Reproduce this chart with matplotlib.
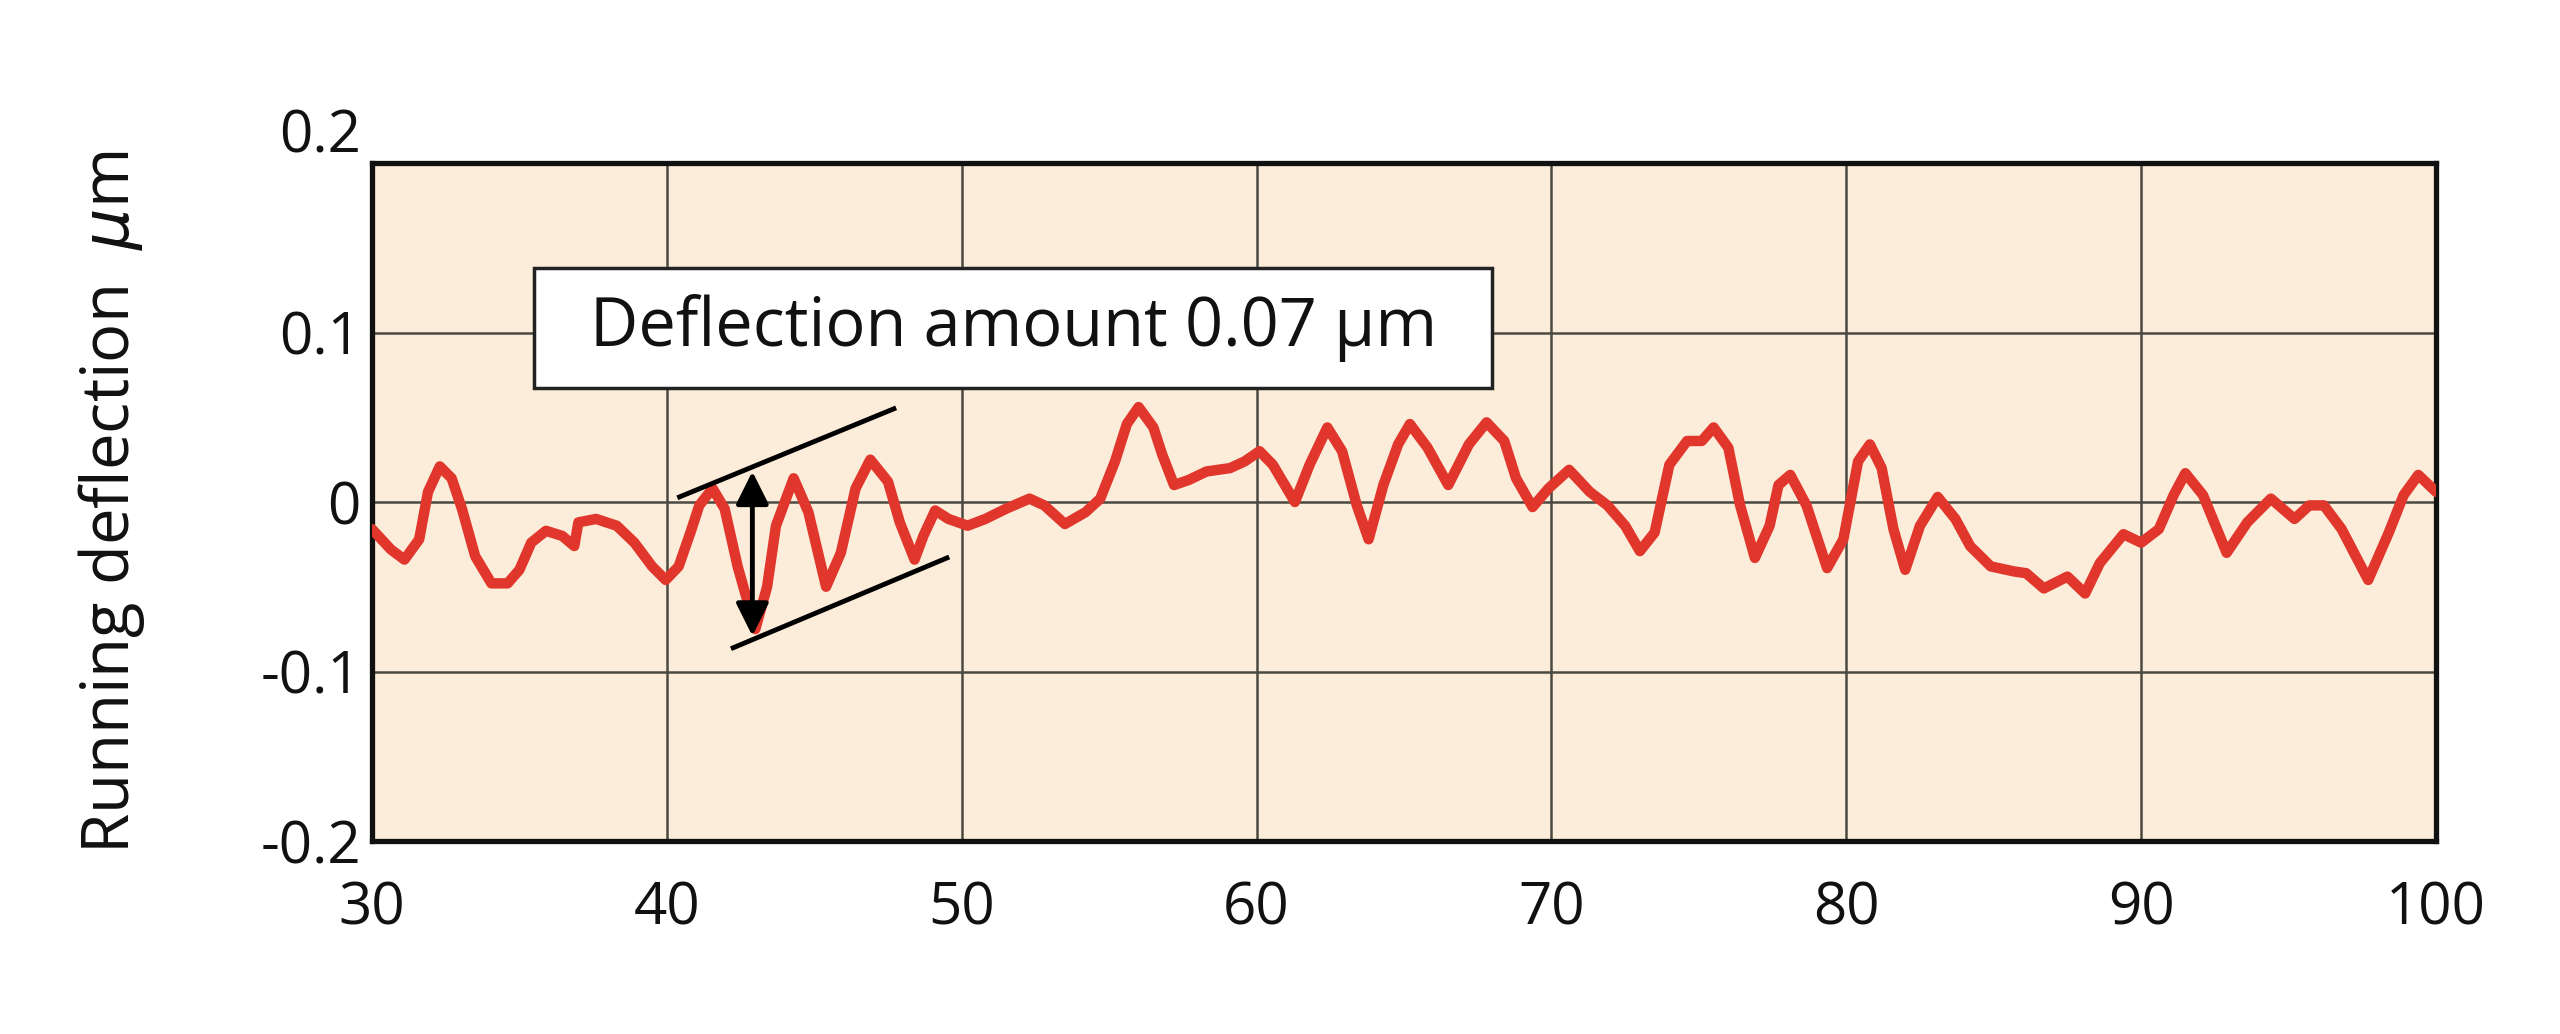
import matplotlib
matplotlib.use("Agg")
import matplotlib.pyplot as plt
from matplotlib.patches import Rectangle
from matplotlib.transforms import ScaledTranslation

# ---- data ----
pos_mm = [30.0, 30.64, 31.1, 31.6, 31.9, 32.3, 32.7, 33.05, 33.5, 34.05, 34.6, 35.0,
          35.4, 35.9, 36.45, 36.86, 37.0, 37.6, 38.3, 38.9, 39.5, 39.96, 40.4, 40.8,
          41.1, 41.55, 41.96, 42.4, 43.0, 43.4, 43.7, 44.3, 44.8, 45.4, 45.9, 46.4,
          46.9, 47.5, 47.9, 48.4, 48.7, 49.1, 49.55, 50.2, 50.8, 51.5, 52.3, 52.8,
          53.5, 54.2, 54.7, 55.2, 55.6, 56.0, 56.5, 56.8, 57.2, 57.7, 58.3, 59.1,
          59.6, 60.1, 60.55, 61.3, 61.8, 62.4, 62.9, 63.4, 63.8, 64.3, 64.8, 65.2,
          65.8, 66.5, 67.2, 67.8, 68.4, 68.8, 69.36, 69.9, 70.6, 71.3, 71.9, 72.5,
          73.0, 73.5, 74.0, 74.6, 75.1, 75.5, 76.0, 76.4, 76.9, 77.4, 77.7, 78.1,
          78.65, 79.35, 79.9, 80.4, 80.8, 81.2, 81.6, 82.0, 82.5, 83.1, 83.7, 84.2,
          84.9, 85.7, 86.1, 86.7, 87.5, 88.1, 88.6, 89.4, 90.0, 90.6, 91.1, 91.5,
          92.1, 92.9, 93.6, 94.4, 95.2, 95.7, 96.2, 96.8, 97.7, 98.4, 98.9, 99.4,
          100.0]
deflection_um = [-0.016, -0.028, -0.034, -0.022, 0.006, 0.021, 0.014, -0.004, -0.032, -0.048, -0.048, -0.040,
                 -0.024, -0.017, -0.020, -0.026, -0.012, -0.010, -0.014, -0.024, -0.038, -0.046, -0.038, -0.018,
                 -0.002, 0.008, -0.004, -0.038, -0.075, -0.050, -0.014, 0.014, -0.006, -0.050, -0.030, 0.008,
                 0.025, 0.012, -0.012, -0.034, -0.020, -0.005, -0.010, -0.014, -0.010, -0.004, 0.002, -0.002,
                 -0.013, -0.006, 0.002, 0.024, 0.046, 0.056, 0.044, 0.028, 0.010, 0.013, 0.018, 0.020,
                 0.024, 0.030, 0.022, 0.000, 0.022, 0.044, 0.030, -0.002, -0.022, 0.010, 0.034, 0.046,
                 0.032, 0.010, 0.034, 0.047, 0.036, 0.014, -0.003, 0.008, 0.019, 0.006, -0.002, -0.014,
                 -0.029, -0.018, 0.022, 0.036, 0.036, 0.044, 0.032, -0.002, -0.033, -0.014, 0.010, 0.016,
                 -0.002, -0.039, -0.022, 0.024, 0.034, 0.020, -0.016, -0.040, -0.014, 0.003, -0.010, -0.026,
                 -0.038, -0.041, -0.042, -0.051, -0.044, -0.054, -0.036, -0.019, -0.024, -0.016, 0.004, 0.017,
                 0.004, -0.030, -0.012, 0.002, -0.010, -0.002, -0.002, -0.016, -0.046, -0.018, 0.004, 0.016,
                 0.006]

x_ticks = [30, 40, 50, 60, 70, 80, 90, 100]
y_ticks = [-0.2, -0.1, 0.0, 0.1, 0.2]
y_tick_labels = ["-0.2", "-0.1", "0", "0.1", "0.2"]
y_label = "Running deflection  $\\mu$m"
box_text = "Deflection amount 0.07 µm"

# annotation geometry (envelope lines, arrow, box) in data units
upper_env_x = [40.43, 47.7]
upper_env_y = [0.003, 0.055]
lower_env_x = [42.25, 49.5]
lower_env_y = [-0.086, -0.033]
arrow_x = 42.9
arrow_y = [0.018, -0.079]
box_x = [35.5, 68.0]
box_y = [0.067, 0.138]

# ---- style ----
FONT = "Open Sans"
plt.rcParams["font.family"] = [FONT, "DejaVu Sans"]
plt.rcParams["mathtext.fontset"] = "custom"
plt.rcParams["mathtext.it"] = "DejaVu Sans:italic"

fig = plt.figure(figsize=(25.6, 10.34), dpi=100)
ax = fig.add_axes([372 / 2560, 1 - 841 / 1034, (2436 - 372) / 2560, (841 - 163) / 1034])
ax.set_facecolor("#FCECDA")

ax.plot(pos_mm, deflection_um, color="#E0362C", lw=7.5, solid_joinstyle="round",
        solid_capstyle="round", zorder=3)

ax.set_xlim(30, 100)
ax.set_ylim(-0.2, 0.2)
ax.set_xticks(x_ticks)
ax.set_xticklabels([str(v) for v in x_ticks])
ax.set_yticks(y_ticks)
ax.set_yticklabels(y_tick_labels)
ax.tick_params(axis="both", length=0, labelsize=42, colors="#111111")
ax.tick_params(axis="x", pad=28)
ax.tick_params(axis="y", pad=8)
ax.grid(True, color="#4a4a42", lw=1.8, zorder=1)
ax.set_axisbelow(True)
for s in ax.spines.values():
    s.set_linewidth(3.8)
    s.set_color("#111111")

# shift "0.2" label up like the reference
for lbl in ax.get_yticklabels():
    if lbl.get_text() == "0.2":
        lbl.set_transform(lbl.get_transform() + ScaledTranslation(0, 0.33, fig.dpi_scale_trans))

ax.set_ylabel(y_label, fontsize=47, color="#111111", va="center")
ax.yaxis.set_label_coords(-0.126, 0.5)

# annotation
ax.plot(upper_env_x, upper_env_y, color="black", lw=3.5, zorder=4)
ax.plot(lower_env_x, lower_env_y, color="black", lw=3.5, zorder=4)
ax.annotate("", xy=(arrow_x, arrow_y[0]), xytext=(arrow_x, arrow_y[1]),
            arrowprops=dict(arrowstyle="<|-|>", color="black", lw=3.5,
                            mutation_scale=50, shrinkA=0, shrinkB=0), zorder=5)
ax.add_patch(Rectangle((box_x[0], box_y[0]), box_x[1] - box_x[0], box_y[1] - box_y[0],
                       facecolor="white", edgecolor="#222222", lw=2.5, zorder=4))
ax.text((box_x[0] + box_x[1]) / 2, (box_y[0] + box_y[1]) / 2, box_text,
        ha="center", va="center", fontsize=48, color="#111111", zorder=5)

fig.savefig("out.png", dpi=100, facecolor="white")
